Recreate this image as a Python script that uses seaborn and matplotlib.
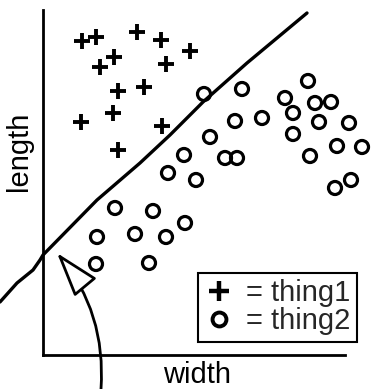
import pandas as pd
import matplotlib
matplotlib.use('Agg')
import matplotlib.pyplot as plt
from matplotlib.lines import Line2D
import seaborn as sns

# values (arbitrary width / length units)
thing1_width = [39, 53, 94, 118, 147, 57, 71, 123, 75, 101, 38, 70, 119, 75]
thing1_length = [314, 318, 323, 315, 304, 288, 298, 291, 264, 268, 233, 242, 229, 205]

thing2_width = [161, 199, 242, 265, 272, 288, 250, 276, 306, 192, 219, 167, 250, 294, 319, 267,
                141, 182, 194, 153, 292, 308, 125, 72, 110, 54, 92, 123, 142, 53, 106]
thing2_length = [261, 266, 257, 274, 252, 253, 242, 233, 232, 234, 237, 218, 221, 209, 208, 199,
                 200, 197, 197, 175, 167, 175, 182, 147, 144, 118, 121, 118, 132, 91, 92]

# hand drawn separating line
boundary_width = [-43, -26, -10, -3, 0, 54, 97, 127, 160, 204, 264]
boundary_length = [53, 72, 85, 95, 100, 155, 192, 220, 253, 292, 342]

# arrow pointing at where the line crosses the axis
arrow_tip = (14, 102)
arrow_start = (58, -34)

legend_labels = ['= thing1', '= thing2']

sns.set_theme(style='white')
plt.rcParams['font.family'] = ['Liberation Sans', 'DejaVu Sans']

df1 = pd.DataFrame({'width': thing1_width, 'length': thing1_length})
df2 = pd.DataFrame({'width': thing2_width, 'length': thing2_length})
line_df = pd.DataFrame({'width': boundary_width, 'length': boundary_length})

fig = plt.figure(figsize=(3.71, 3.89), dpi=100)
ax = fig.add_axes([43 / 371, 34 / 389, 302 / 371, 345 / 389])

sns.scatterplot(data=df1, x='width', y='length', marker='+', color='black',
                s=117, linewidth=2.8, clip_on=False, ax=ax)
sns.scatterplot(data=df2, x='width', y='length', marker='o', color='black',
                facecolors='none', edgecolor='black', s=88, linewidth=2.3,
                clip_on=False, ax=ax)
sns.lineplot(data=line_df, x='width', y='length', color='black', linewidth=2.4,
             sort=False, estimator=None, clip_on=False, ax=ax)

ax.annotate('', xy=arrow_tip, xytext=arrow_start, annotation_clip=False,
            arrowprops=dict(arrowstyle='-|>,head_length=1.4,head_width=0.45',
                            mutation_scale=20, connectionstyle='arc3,rad=0.2',
                            lw=2, fc='white', ec='black', shrinkA=0, shrinkB=0))

ax.set_xlim(0, 302)
ax.set_ylim(0, 345)
ax.set_xticks([])
ax.set_yticks([])
for side in ['top', 'right']:
    ax.spines[side].set_visible(False)
for side in ['left', 'bottom']:
    ax.spines[side].set_color('black')
    ax.spines[side].set_linewidth(2)

ax.set_xlabel('width', fontsize=21, color='black')
ax.set_ylabel('length', fontsize=21, color='black')
ax.xaxis.set_label_coords(0.51, -0.018)
ax.yaxis.set_label_coords(-0.033, 0.59)

handles = [
    Line2D([], [], marker='+', ls='', color='black', markersize=14, mew=3.2),
    Line2D([], [], marker='o', ls='', mfc='none', mec='black', markersize=10, mew=2.8),
]
leg = ax.legend(handles, legend_labels, loc='lower right', bbox_to_anchor=(1.04, 0.038),
                borderaxespad=0, fontsize=21, frameon=True, fancybox=False, framealpha=1,
                handlelength=1.05, handletextpad=0.4, borderpad=0.22, labelspacing=0.0)
leg.get_frame().set_edgecolor('black')
leg.get_frame().set_linewidth(1.5)

fig.savefig('out.png', dpi=100)
